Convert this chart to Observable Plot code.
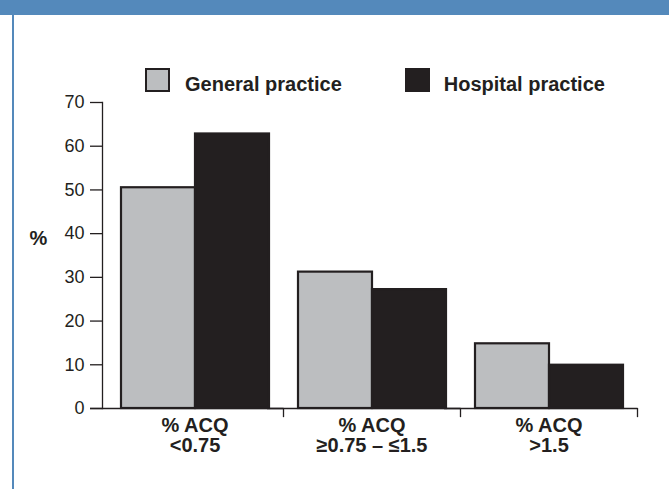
<!DOCTYPE html>
<html>
<head>
<meta charset="utf-8">
<script src="https://cdn.jsdelivr.net/npm/d3@7"></script>
<script src="https://cdn.jsdelivr.net/npm/@observablehq/plot@0.6"></script>
<style>
  html, body { margin: 0; padding: 0; background: #fff; overflow: hidden; }
  #wrap { position: relative; width: 669px; height: 489px; overflow: hidden;
          background: linear-gradient(to bottom, #5489bb 0px, #5489bb 15px, #ffffff 15px, #ffffff 100%);
          font-family: "Liberation Sans", Arial, Helvetica, sans-serif; color: #231f20; }
  #bdr { position: absolute; left: 12px; top: 15px; width: 2px; height: 474px; background: #5489bb; }
  #chart { position: absolute; left: 0; top: 0; }
  #chart svg { display: block; }
  #legend { position: absolute; left: 145px; top: 68px; display: flex; align-items: flex-start;
            font-weight: bold; font-size: 20px; line-height: 20px; }
  .item { display: flex; align-items: flex-start; }
  .sw { width: 21px; height: 20px; border: 2px solid #231f20; }
  .lbl { margin-top: 6px; white-space: nowrap; }
</style>
</head>
<body>
<div id="wrap">
  <div id="bdr"></div>
  <div id="chart"></div>
  <div id="legend"></div>
</div>
<script>
// ---- data ----
const categories = ["% ACQ\n<0.75", "% ACQ\n\u22650.75 \u2013 \u22641.5", "% ACQ\n>1.5"];
const series = ["General practice", "Hospital practice"];
const generalPractice = [50.5, 31.2, 14.8];
const hospitalPractice = [62.8, 27.2, 9.9];
const yTicks = [0, 10, 20, 30, 40, 50, 60, 70];
const seriesColors = ["#bcbec0", "#231f20"];
const yLabel = "%";

const data = categories.flatMap((c, i) => [
  {category: c, series: series[0], value: generalPractice[i]},
  {category: c, series: series[1], value: hospitalPractice[i]}
]);

// ---- chart ----
const W = 669, H = 489, mt = 102, mb = 81;
const ink = "#231f20";
const chart = Plot.plot({
  width: W, height: H,
  marginTop: mt, marginBottom: mb, marginLeft: 105, marginRight: 31,
  style: {fontFamily: "'Liberation Sans', Arial, Helvetica, sans-serif", color: ink, background: "transparent", overflow: "visible"},
  fx: {domain: categories, padding: 0, label: null},
  x: {domain: series, paddingInner: 0, paddingOuter: 0.19, axis: null},
  y: {domain: [0, 70]},
  color: {domain: series, range: seriesColors},
  marks: [
    Plot.barY(data, {fx: "category", x: "series", y: "value", fill: "series", stroke: ink, strokeWidth: 2.2, inset: 0}),
    Plot.ruleY([0], {stroke: ink, strokeWidth: 1.3, insetLeft: -16}),
    Plot.frame({anchor: "left", facetAnchor: "left", dx: -4, stroke: ink, strokeWidth: 1.3}),
    Plot.frame({anchor: "right", insetTop: H - mt - mb, insetBottom: -8, stroke: ink, strokeWidth: 1.3}),
    Plot.axisY({ticks: yTicks, tickSize: 12, tickPadding: 6, dx: -4, fontSize: 18, label: null, tickFormat: d => String(d), strokeWidth: 1.3}),
    Plot.axisFx({anchor: "bottom", tickSize: 0, tickPadding: 9, fontSize: 20, fontWeight: "bold", lineHeight: 1, label: null}),
    Plot.text([yLabel], {frameAnchor: "left", facetAnchor: "left", textAnchor: "middle", dx: -68, dy: -17, fontSize: 20, fontWeight: "bold"})
  ]
});
document.getElementById("chart").appendChild(chart);

// ---- legend ----
const legend = document.getElementById("legend");
const color = chart.scale("color");
series.forEach((s, i) => {
  const item = document.createElement("div");
  item.className = "item";
  if (i > 0) item.style.marginLeft = "63px";
  const sw = document.createElement("div");
  sw.className = "sw";
  sw.style.background = color.apply(s);
  sw.style.marginRight = i === 0 ? "15px" : "14px";
  const lbl = document.createElement("span");
  lbl.className = "lbl";
  lbl.textContent = s;
  item.appendChild(sw);
  item.appendChild(lbl);
  legend.appendChild(item);
});
</script>
</body>
</html>
